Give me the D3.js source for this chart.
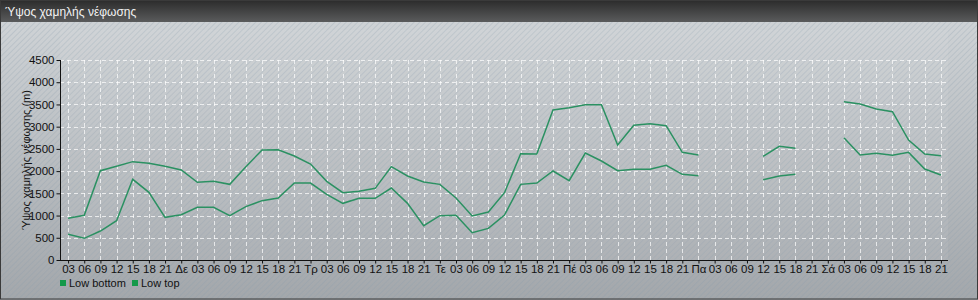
<!DOCTYPE html>
<html>
<head>
<meta charset="utf-8">
<script src="https://cdn.jsdelivr.net/npm/d3@7"></script>
<style>
  body { margin: 0; padding: 0; overflow: hidden; }
  svg { display: block; font-family: "Liberation Sans", Arial, sans-serif; }
</style>
</head>
<body>
<script>
// chart size
var w = 978;
var h = 300;

var title = "Ύψος χαμηλής νέφωσης";
var yTitle = "Ύψος χαμηλής νέφωσης (m)";

// x categories (3-hourly, day names at midnight)
var categories = [
  "03","06","09","12","15","18","21",
  "Δε","03","06","09","12","15","18","21",
  "Τρ","03","06","09","12","15","18","21",
  "Τε","03","06","09","12","15","18","21",
  "Πέ","03","06","09","12","15","18","21",
  "Πα","03","06","09","12","15","18","21",
  "Σά","03","06","09","12","15","18","21"
];

var yTicks = [0, 500, 1000, 1500, 2000, 2500, 3000, 3500, 4000, 4500];

var lowBottom = [
  578, 488, 652, 885, 1815, 1522, 960, 1020, 1185, 1185,
  997, 1200, 1335, 1395, 1732, 1732, 1477, 1275, 1387, 1387,
  1620, 1275, 772, 997, 1005, 615, 712, 1012, 1702, 1732,
  2002, 1785, 2407, 2227, 2010, 2040, 2040, 2130, 1927, 1897,
  null, null, null, 1807, 1890, 1927, null, null, 2752, 2362,
  2400, 2355, 2422, 2047, 1912
];

var lowTop = [
  938, 1005, 2010, 2108, 2213, 2175, 2108, 2025, 1747, 1770,
  1702, 2100, 2475, 2482, 2340, 2160, 1770, 1515, 1545, 1612,
  2100, 1890, 1755, 1702, 1395, 990, 1080, 1515, 2392, 2385,
  3375, 3427, 3495, 3495, 2587, 3030, 3067, 3022, 2422, 2362,
  null, null, null, 2332, 2557, 2512, null, null, 3562, 3510,
  3397, 3337, 2700, 2385, 2347
];

var seriesNames = ["Low bottom", "Low top"];
var lineColor = "#2b9162";
var legendColor = "#14994a";

var svg = d3.select("body").append("svg")
  .attr("width", w)
  .attr("height", h);

var defs = svg.append("defs");

// background gradient
var bg = defs.append("linearGradient")
  .attr("id", "bgGrad")
  .attr("x1", 0).attr("y1", 0).attr("x2", 0).attr("y2", 1);
bg.append("stop").attr("offset", "0%").attr("stop-color", "#d2d6d9");
bg.append("stop").attr("offset", "100%").attr("stop-color", "#a3a7ab");

// title bar gradient
var tg = defs.append("linearGradient")
  .attr("id", "titleGrad")
  .attr("x1", 0).attr("y1", 0).attr("x2", 0).attr("y2", 1);
tg.append("stop").attr("offset", "0%").attr("stop-color", "#2b2b2b");
tg.append("stop").attr("offset", "100%").attr("stop-color", "#5a5b5c");

// diagonal hatch
var pat = defs.append("pattern")
  .attr("id", "hatch")
  .attr("patternUnits", "userSpaceOnUse")
  .attr("width", 4).attr("height", 4)
  .attr("patternTransform", "rotate(45)");
pat.append("line")
  .attr("x1", 0).attr("y1", 0).attr("x2", 0).attr("y2", 4)
  .attr("stroke", "#8a9aa8")
  .attr("stroke-opacity", 0.35)
  .attr("stroke-width", 1.5);

svg.append("rect")
  .attr("width", w).attr("height", h)
  .attr("fill", "url(#bgGrad)");
svg.append("rect")
  .attr("width", w).attr("height", h)
  .attr("fill", "url(#hatch)");

// title bar
svg.append("rect")
  .attr("x", 0).attr("y", 0)
  .attr("width", w).attr("height", 22)
  .attr("fill", "url(#titleGrad)");
svg.append("text")
  .attr("x", 5).attr("y", 15.5)
  .attr("fill", "#f2f2f2")
  .style("font-size", "12px")
  .text(title);

// frame
svg.append("rect")
  .attr("x", 0.5).attr("y", 0.5)
  .attr("width", w - 1).attr("height", h - 1.5)
  .attr("fill", "none")
  .attr("stroke", "#3a3a3a");

// plot box (avoid "top", it's window.top)
var pLeft = 60, pRight = 948, pTop = 60, pBottom = 260;

var x = d3.scalePoint()
  .domain(d3.range(categories.length))
  .range([60, 949])
  .padding(0.5);

var y = d3.scaleLinear()
  .domain([0, 4500])
  .range([pBottom, pTop]);

// lighter plot panel
svg.append("rect")
  .attr("x", pLeft).attr("y", 30)
  .attr("width", pRight - pLeft).attr("height", pBottom - 30)
  .attr("fill", "#ffffff")
  .attr("fill-opacity", 0.06);

// grid lines
svg.append("g").selectAll("line.hgrid")
  .data(yTicks.slice(1))
  .enter().append("line")
  .attr("class", "hgrid")
  .attr("x1", pLeft).attr("x2", pRight)
  .attr("y1", function(d) { return Math.round(y(d)) + 0.5; })
  .attr("y2", function(d) { return Math.round(y(d)) + 0.5; })
  .attr("stroke", "#ffffff")
  .attr("stroke-opacity", 0.7)
  .attr("stroke-dasharray", "4,3");

svg.append("g").selectAll("line.vgrid")
  .data(d3.range(categories.length))
  .enter().append("line")
  .attr("class", "vgrid")
  .attr("x1", function(d) { return Math.round(x(d)) + 0.5; })
  .attr("x2", function(d) { return Math.round(x(d)) + 0.5; })
  .attr("y1", pTop).attr("y2", pBottom)
  .attr("stroke", "#ffffff")
  .attr("stroke-opacity", 0.7)
  .attr("stroke-dasharray", "4,3");

// axes
var yAxis = d3.axisLeft(y)
  .tickValues(yTicks)
  .tickSize(4)
  .tickPadding(2)
  .tickFormat(d3.format("d"));

var gy = svg.append("g")
  .attr("transform", "translate(" + (pLeft + 0.5) + ",0)")
  .call(yAxis);
gy.select(".domain").attr("d", "M0," + pTop + "V" + pBottom);

var xAxis = d3.axisBottom(x)
  .tickSize(3)
  .tickPadding(1)
  .tickFormat(function(i) { return categories[i]; });

var gx = svg.append("g")
  .attr("transform", "translate(0," + (pBottom + 0.5) + ")")
  .call(xAxis);
gx.select(".domain").attr("d", "M" + pLeft + ",0H" + pRight);

svg.selectAll(".tick text")
  .attr("fill", "#111")
  .style("font-size", "11.5px")
  .style("font-family", "\"Liberation Sans\", Arial, sans-serif");
svg.selectAll(".tick line").attr("stroke", "#111");
svg.selectAll(".domain").attr("stroke", "#111");

// y axis title
svg.append("text")
  .attr("transform", "translate(30," + ((pTop + pBottom) / 2) + ") rotate(-90)")
  .attr("text-anchor", "middle")
  .attr("fill", "#111")
  .style("font-size", "11px")
  .text(yTitle);

// lines
var line = d3.line()
  .defined(function(d) { return d != null; })
  .x(function(d, i) { return x(i); })
  .y(function(d) { return y(d); });

[lowBottom, lowTop].forEach(function(s) {
  svg.append("path")
    .datum(s)
    .attr("d", line)
    .attr("fill", "none")
    .attr("stroke", lineColor)
    .attr("stroke-width", 1.5);
});

// legend
var legend = svg.append("g")
  .attr("transform", "translate(60,279)");
var lx = [0, 72];
seriesNames.forEach(function(name, i) {
  legend.append("rect")
    .attr("x", lx[i]).attr("y", 1)
    .attr("width", 6).attr("height", 6)
    .attr("fill", legendColor);
  legend.append("text")
    .attr("x", lx[i] + 9).attr("y", 7.5)
    .attr("fill", "#111")
    .style("font-size", "11px")
    .text(name);
});
</script>
</body>
</html>
